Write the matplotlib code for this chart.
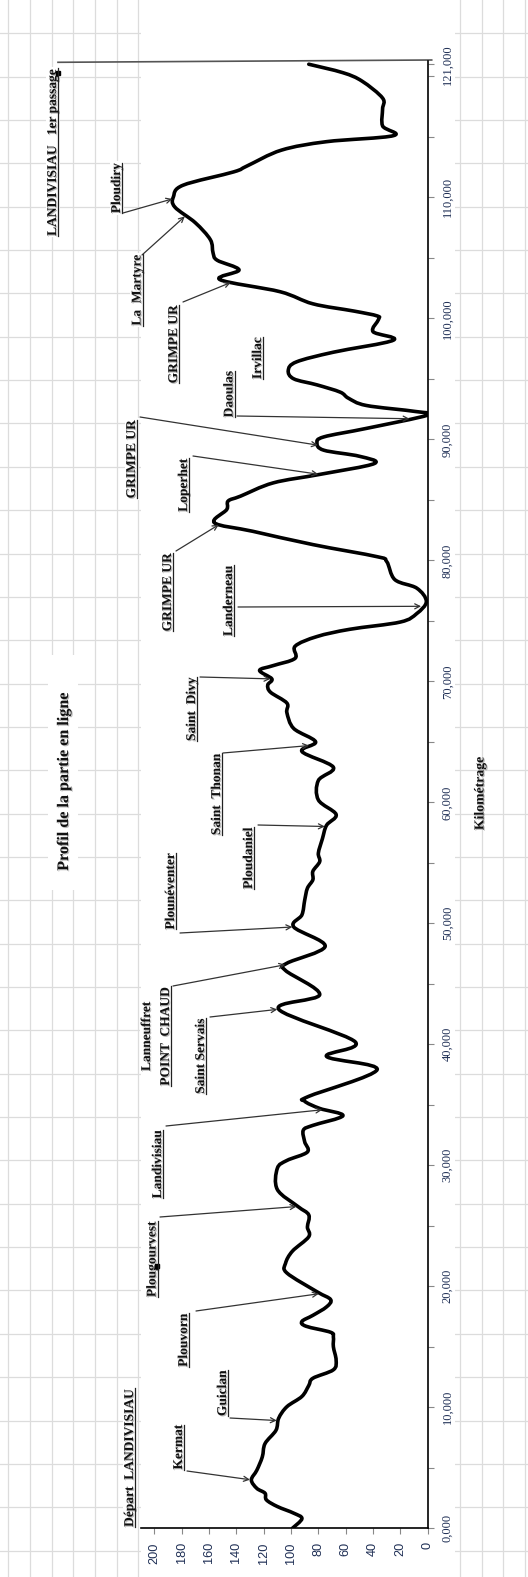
import numpy as np
import matplotlib
matplotlib.use("Agg")
import matplotlib.pyplot as plt
import matplotlib.patheffects as pe
from matplotlib.patches import Rectangle, PathPatch
from matplotlib.path import Path

# elevation profile: distance (km) and altitude (m)
km = [0.0, 0.8, 1.25, 1.8, 2.35, 2.9, 3.3, 4.0, 4.8, 5.9, 7.0, 8.1, 9.1, 10.05, 10.9,
      11.8, 12.4, 13.1, 13.9, 15.0, 15.8, 16.2, 16.7, 17.1, 17.6, 18.3, 18.9, 19.55, 21.1,
      21.9, 22.9, 24.1, 24.9, 25.9, 26.6, 28.0, 29.75, 30.4, 31.1, 31.95, 32.9, 33.3, 34.1,
      34.7, 35.3, 35.7, 37.9, 39.0, 40.2, 42.9, 44.1, 46.1, 46.7, 48.1, 49.7, 50.7, 51.9,
      52.9, 53.6, 54.3, 55.1, 55.8, 57.0, 58.1, 59.0, 60.2, 61.8, 62.9, 64.2, 65.0, 66.1,
      67.4, 68.2, 69.1, 69.7, 70.2, 70.9, 71.3, 71.9, 72.9, 73.7, 74.3, 74.9, 75.6, 76.6,
      77.7, 78.4, 79.9, 80.3, 81.3, 82.4, 83.1, 84.2, 84.9, 85.3, 86.4, 87.1, 88.0, 88.6,
      89.1, 89.7, 90.2, 90.9, 92.0, 92.3, 92.8, 93.4, 93.9, 94.5, 95.0, 95.7, 96.4, 97.2,
      98.2, 98.9, 99.9, 100.2, 100.6, 101.2, 102.2, 103.2, 104.0, 104.8, 105.4, 106.5,
      107.9, 109.2, 110.05, 111.0, 112.1, 112.6, 113.9, 114.6, 115.1, 115.9, 117.3, 118.2,
      119.6, 120.3, 121.0]
alt = [99, 92, 98, 110, 118, 119, 125, 129, 125, 121, 119, 111, 109, 103, 92,
       87, 84, 69, 67, 69, 69, 71, 89, 92, 84, 74, 71, 81, 103,
       104, 99, 87, 88, 87, 95, 110, 110, 103, 88, 90, 91, 84, 62,
       79, 90, 87, 37, 74, 53, 109, 79, 104, 103, 75, 98, 92, 90,
       88, 84, 84, 79, 80, 77, 74, 67, 80, 80, 69, 92, 82, 98,
       103, 103, 115, 117, 114, 123, 113, 97, 97, 81, 57, 20, 8, 1,
       8, 24, 30, 37, 84, 128, 156, 147, 146, 137, 113, 79, 39, 50,
       76, 81, 76, 45, 0, 9, 45, 58, 64, 81, 98, 102, 96, 69,
       25, 40, 36, 37, 54, 84, 108, 152, 138, 154, 157, 159,
       170, 185, 186, 179, 142, 132, 107, 74, 25, 33, 33, 33,
       48, 62, 87]

alt_ticks = list(range(0, 201, 20))
km_ticks = list(range(0, 121, 5)) + [121]
km_ticklabels = [f"{v:.3f}".replace(".", ",") if (v % 10 == 0 and v <= 110) or v == 121 else ""
                 for v in km_ticks]

# place names with arrows, and the km they point to
places = ["Kermat", "Guiclan", "Plouvorn", "Plougourvest", "Landivisiau", "POINT  CHAUD",
          "Saint Servais", "Plounéventer", "Ploudaniel", "Saint  Thonan", "Saint  Divy",
          "Landerneau", "GRIMPE UR", "Loperhet", "GRIMPE UR", "Daoulas", "GRIMPE UR",
          "La  Martyre", "Ploudiry"]
place_km = [4.0, 8.9, 19.4, 26.6, 34.6, 46.6, 42.9, 49.7, 58.0, 64.7, 70.2,
            76.2, 83.0, 87.1, 89.5, 91.7, 103.0, 108.5, 109.9]
# plain labels without arrows
notes = ["Départ  LANDIVISIAU", "Lanneuffret", "Irvillac", "LANDIVISIAU   1er passage"]

title = "Profil de la partie en ligne"
km_title = "Kilométrage"

# ---- layout (pixels of the 528x1577 picture) ----
W, H = 528, 1577
place_xy = [(179, 1447), (223, 1393), (184, 1340), (152.5, 1259), (158, 1164), (166, 1036),
            (201, 1056), (171, 891), (249, 858), (217, 794), (192, 709),
            (229, 600.5), (168, 592), (184, 485), (132, 459), (229.5, 394), (174, 344),
            (137.5, 290), (117, 188)]
tail_xy = [(187, 1471), (230, 1418), (196, 1311), (160, 1217), (166, 1126), (173, 986),
           (210, 1017), (180, 933), (258, 825), (223, 753), (200, 677),
           (238, 607), (176, 551), (193, 456), (140, 417), (237, 416), (183, 302),
           (142, 255), (123, 213)]
note_xy = [(130, 1457.5), (147, 1036), (258, 358), (53, 152)]
note_underline = [True, False, True, True]

grid_x = [8.3, 30, 51.7, 73.3, 95, 116.7, 138.3, 460, 481.7, 503.3, 525]
grid_y = [33.3 + 43.35 * k for k in range(36)]

px_per_m = 1.367
x_zero, y_zero, y_top = 427.7, 1528.3, 60.6
alt_max = 210
km_max = 121.3

label_font = dict(family="Liberation Serif", weight="bold", size=9.7, color="#111111")
tick_color = "#1f2f55"
shadow = [pe.withSimplePatchShadow(offset=(0.8, -0.8), shadow_rgbFace="#9a9a9a", alpha=0.7)]


def smooth_path(xs, ys):
    # smoothed line like the spreadsheet one: Bezier segments through every point
    p = np.column_stack([xs, ys]).astype(float)
    ext = np.vstack([p[0], p, p[-1]])
    verts = [p[0]]
    codes = [Path.MOVETO]
    for i in range(len(p) - 1):
        p0, p1, p2, p3 = ext[i], ext[i + 1], ext[i + 2], ext[i + 3]
        verts += [p1 + (p2 - p0) / 6, p2 - (p3 - p1) / 6, p2]
        codes += [Path.CURVE4] * 3
    return Path(verts, codes)


fig = plt.figure(figsize=(W / 100, H / 100), dpi=100)

# spreadsheet background
bg = fig.add_axes([0, 0, 1, 1])
bg.set_zorder(-1)
bg.set_xlim(0, W)
bg.set_ylim(H, 0)
bg.axis("off")
for gx in grid_x:
    bg.axvline(gx, color="#dcdcdc", lw=0.9)
for gy in grid_y:
    bg.axhline(gy, color="#dcdcdc", lw=0.9)
bg.add_patch(Rectangle((141, 0), 455 - 141, H, facecolor="white", edgecolor="none", zorder=2.5))
bg.add_patch(Rectangle((48, 655), 30, 235, facecolor="white", edgecolor="none", zorder=2.5))

# chart
left = x_zero - alt_max * px_per_m
ax = fig.add_axes([left / W, 1 - y_zero / H, (x_zero - left) / W, (y_zero - y_top) / H])
ax.patch.set_alpha(0)
ax.add_patch(PathPatch(smooth_path(alt, km), fill=False, ec="black", lw=2.6,
                       joinstyle="round", capstyle="round"))
ax.set_xlim(alt_max, 0)
ax.set_ylim(0, km_max)
for s in ["top", "left"]:
    ax.spines[s].set_visible(False)
for s in ["bottom", "right"]:
    ax.spines[s].set_linewidth(1.2)
    ax.spines[s].set_color("black")

ax.set_xticks(alt_ticks)
ax.set_xticklabels([str(v) for v in alt_ticks], rotation=90, family="Liberation Sans",
                   fontsize=9.2, color=tick_color)
ax.tick_params(axis="x", direction="out", length=4, width=0.8, color="#888888", pad=6)

ax.yaxis.tick_right()
ax.set_yticks(km_ticks)
ax.set_yticklabels(km_ticklabels, rotation=90, va="center", family="Liberation Serif",
                   fontsize=9, color=tick_color)
ax.tick_params(axis="y", direction="out", length=4, width=0.8, color="#888888", pad=6)

# arrows from the place names to the curve
for name, k, (tx, ty) in zip(places, place_km, tail_xy):
    a = np.interp(k, km, alt)
    ax.annotate("", xy=(a, k), xycoords="data", xytext=(tx, ty), textcoords=bg.transData,
                arrowprops=dict(arrowstyle="->", color="#333333", lw=0.9,
                                shrinkA=0, shrinkB=1, mutation_scale=9),
                annotation_clip=False)

# top line from "LANDIVISIAU 1er passage" to the chart corner
bg.plot([58, 431.7], [62.3, 60], color="#555555", lw=1.2, zorder=3)

texts = []
for name, (x, y) in zip(places, place_xy):
    t = bg.text(x, y, name, rotation=90, ha="center", va="center", path_effects=shadow,
                bbox=dict(boxstyle="square,pad=0.1", fc="white", ec="none"), zorder=4,
                **label_font)
    texts.append(t)
for name, (x, y), ul in zip(notes, note_xy, note_underline):
    t = bg.text(x, y, name, rotation=90, ha="center", va="center", path_effects=shadow,
                bbox=dict(boxstyle="square,pad=0.1", fc="white", ec="none"), zorder=4,
                **label_font)
    if ul:
        texts.append(t)

bg.text(64, 782, title, rotation=90, ha="center", va="center", family="Liberation Serif",
        weight="bold", size=11.6, color="#111111", path_effects=shadow, zorder=4)
bg.text(480, 793.5, km_title, rotation=90, ha="center", va="center", family="Liberation Serif",
        weight="bold", size=9.9, color="#111111", path_effects=shadow, zorder=4)

# selection handles left in the screenshot
bg.add_patch(Rectangle((56, 71), 4, 4, color="black", zorder=5))
bg.add_patch(Rectangle((155, 1264), 4, 4, color="black", zorder=5))

# underline the labels
fig.canvas.draw()
r = fig.canvas.get_renderer()
inv = bg.transData.inverted()
for t in texts:
    bb = t.get_window_extent(r)
    (x0, y0), (x1, y1) = inv.transform([(bb.x0, bb.y0), (bb.x1, bb.y1)])
    bg.plot([x1 - 1, x1 - 1], [y0, y1], color="#222222", lw=0.9, zorder=5)

fig.savefig("out.png", dpi=100)
